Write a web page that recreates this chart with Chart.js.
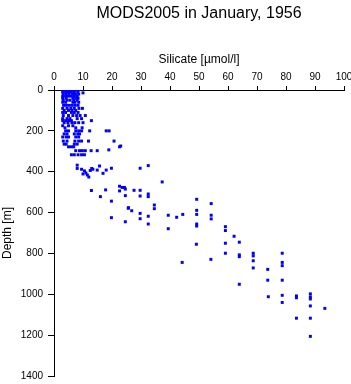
<!DOCTYPE html>
<html>
<head>
<meta charset="utf-8">
<script src="https://cdn.jsdelivr.net/npm/chart.js@4.4.1/dist/chart.umd.min.js"></script>
<style>
html,body{margin:0;padding:0;background:#fff;}
canvas{display:block;}
</style>
</head>
<body>
<canvas id="c" width="351" height="384"></canvas>
<script>
const chartTitle = 'MODS2005 in January, 1956';
const xTitle = 'Silicate [µmol/l]';
const yTitle = 'Depth [m]';
const xTicks = [0, 10, 20, 30, 40, 50, 60, 70, 80, 90, 100];
const yTicks = [0, 200, 400, 600, 800, 1000, 1200, 1400];

// Silicate [µmol/l] values, paired with depth [m] values below
const silicate = [
  3, 3.8, 4.6, 5.4, 6.2, 7, 7.8, 8.5,
  3, 4, 5, 6, 7, 8.2,
  10,
  3.2, 4.2, 5.2, 6.4, 7.4, 8.5,
  3, 4, 5, 6, 7, 8,
  3, 4.2, 6.5, 7.5, 8.3,
  3.2, 4.5, 5.5, 6.8, 8,
  3, 4, 6.5, 7.2, 8.5,
  3.3, 4.3, 5.3, 6.3, 7.3, 8.3,
  3, 4.5, 5.8, 7, 8.6, 9.8,
  3.5, 5, 6.2, 7.5,
  3, 4, 6, 7, 8.3,
  3.2, 5, 6.5, 7.8, 9, 10.8,
  3, 4.5, 5.5, 8, 9.5,
  3, 4, 5, 6, 12.9,
  3.5, 4.8, 6.2, 7.2, 8.5, 10,
  3, 5, 6.5,
  3.8, 7.5, 9.7,
  4, 5, 7.5, 8.5, 9.5, 12.3, 18, 19,
  3.5, 4.5, 7, 8.2, 8.8,
  3, 4.2, 5, 7.5, 8.5,
  3.2, 4.5, 7.2, 8.5, 9.5, 11.9, 20.7,
  3.5, 4.2, 7, 8,
  23,
  5, 6, 6.8, 22.6,
  18.9,
  7.5, 8.8, 9.8, 10.8, 12.8, 14.9,
  6, 7, 8.3, 9.5, 10.5,
  8, 8, 9.5, 10.5, 11, 11.5, 12, 12.5, 13, 13.4, 10, 14.9, 15.7, 16.9, 18, 19.8,
  12.9, 16, 17.8, 19.8, 19.8, 22.6, 23.5, 24.3, 24.6, 22.6, 24.6, 25.7, 24.6,
  29.7, 32.5, 37.3, 27.6, 29.7, 29.7, 32.5, 32.5, 34.6, 34.6, 25.6, 26.8,
  29.7, 29.7, 32.5, 32.5, 39.4, 39.4, 42.3, 44.4,
  49.2, 49.2, 49.2, 49.2, 49.2, 54.2, 54.2, 54.2, 59.1, 59.1, 62.1, 63.9,
  49.1, 59.1, 59.1, 63.9, 63.9, 68.7, 68.7, 68.7, 68.7, 54.1, 44.2, 63.9,
  73.7, 73.7, 73.9, 78.7, 78.7, 78.7, 78.7, 78.7, 78.7,
  83.6, 83.6, 83.6, 88.4, 88.4, 88.4, 88.4, 88.4, 88.4, 93.4
];
const depth = [
  0, 0, 0, 0, 0, 0, 0, 0,
  10, 10, 10, 10, 10, 10,
  14,
  20, 20, 20, 20, 20, 20,
  30, 30, 30, 30, 30, 30,
  40, 40, 40, 40, 40,
  50, 50, 50, 50, 50,
  60, 60, 60, 60, 60,
  75, 75, 75, 75, 75, 75,
  90, 90, 90, 90, 90, 90,
  100, 100, 100, 100,
  110, 110, 110, 110, 110,
  125, 125, 125, 125, 125, 125,
  140, 140, 140, 140, 140,
  150, 150, 150, 150, 150,
  160, 160, 160, 160, 160, 160,
  175, 175, 175,
  185, 185, 185,
  200, 200, 200, 200, 200, 200, 200, 200,
  215, 215, 215, 215, 215,
  230, 230, 230, 230, 230,
  250, 250, 250, 250, 250, 250, 250,
  265, 265, 265, 265,
  274,
  278, 278, 278, 278,
  293,
  297, 297, 297, 297, 297, 297,
  317, 317, 317, 317, 317,
  368, 384, 388, 396, 406, 416, 426, 394, 384, 388, 411, 392, 372, 408, 392, 383,
  492, 522, 489, 544, 625, 471, 477, 477, 485, 494, 517, 576, 645,
  383, 370, 450, 491, 491, 519, 509, 522, 563, 581, 579, 591,
  604, 630, 618, 656, 613, 679, 623, 609,
  535, 589, 609, 656, 666, 556, 613, 631, 669, 688, 716, 745,
  755, 750, 799, 807, 816, 799, 812, 836, 871, 829, 844, 951,
  878, 931, 1012, 799, 844, 860, 931, 1005, 1040,
  1008, 1017, 1117, 998, 1013, 1023, 1057, 1117, 1206, 1069
];

const FONT = 'Liberation Sans, Arial, Helvetica, sans-serif';
const points = silicate.map((s, i) => ({x: s, y: depth[i]}));

new Chart(document.getElementById('c'), {
  type: 'scatter',
  data: {
    datasets: [{
      data: points,
      pointStyle: 'rect',
      pointRadius: 2.1,
      pointBorderWidth: 0,
      backgroundColor: '#0000ff',
      borderColor: '#0000ff'
    }]
  },
  options: {
    responsive: false,
    animation: false,
    devicePixelRatio: 1,
    layout: {padding: {left: 0, right: 7, top: 0, bottom: 8}},
    plugins: {
      legend: {display: false},
      tooltip: {enabled: false},
      title: {
        display: true,
        text: chartTitle,
        fullSize: false,
        color: '#000',
        font: {family: FONT, size: 16, weight: 'normal'},
        padding: {top: 4, bottom: 0}
      }
    },
    scales: {
      x: {
        type: 'linear',
        position: 'top',
        min: xTicks[0],
        max: xTicks[xTicks.length - 1],
        afterBuildTicks: (s) => { s.ticks = xTicks.map(v => ({value: v})); },
        afterFit: (s) => { s.height = 66.8; s.paddingLeft = 0; s.paddingRight = 0; },
        ticks: {color: '#000', font: {family: FONT, size: 10}, padding: 3, maxRotation: 0, autoSkip: false,
                callback: (v) => String(v)},
        grid: {drawOnChartArea: false, drawTicks: true, tickLength: 4, color: '#000'},
        border: {display: true, color: '#000', width: 1},
        title: {display: true, text: xTitle, color: '#000', font: {family: FONT, size: 12}, padding: {top: 29.6, bottom: 0}}
      },
      y: {
        type: 'linear',
        reverse: true,
        min: yTicks[0],
        max: yTicks[yTicks.length - 1],
        afterBuildTicks: (s) => { s.ticks = yTicks.map(v => ({value: v})); },
        afterFit: (s) => { s.width = 54; s.paddingTop = 0; s.paddingBottom = 0; },
        ticks: {color: '#000', font: {family: FONT, size: 10}, padding: 5, autoSkip: false,
                callback: (v) => String(v)},
        grid: {drawOnChartArea: false, drawTicks: true, tickLength: 6, color: '#000'},
        border: {display: true, color: '#000', width: 1},
        title: {display: true, text: yTitle, color: '#000', font: {family: FONT, size: 12}, padding: {top: 0, bottom: 0}}
      }
    }
  }
});
</script>
</body>
</html>
